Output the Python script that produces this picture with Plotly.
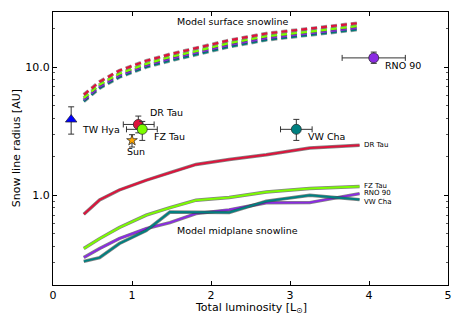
import math
import plotly.graph_objects as go

# ---- data ----
model_lum = [0.39, 0.59, 0.84, 1.18, 1.48, 1.81, 2.23, 2.70, 3.25, 3.88]

mid_dr_tau = [0.71, 0.92, 1.10, 1.31, 1.50, 1.74, 1.90, 2.07, 2.34, 2.46]
mid_fz_tau = [0.384, 0.459, 0.56, 0.70, 0.80, 0.915, 0.96, 1.06, 1.13, 1.17]
mid_rno_90 = [0.327, 0.384, 0.46, 0.55, 0.612, 0.72, 0.77, 0.875, 0.877, 1.03]
mid_vw_cha = [0.305, 0.326, 0.42, 0.53, 0.74, 0.733, 0.733, 0.90, 1.00, 0.925]

surf_dr_tau = [6.1, 7.7, 9.4, 11.2, 12.6, 14.0, 16.2, 18.3, 19.9, 22.1]
surf_fz_tau = [5.75, 7.3, 8.9, 10.6, 12.0, 13.3, 15.4, 17.4, 18.9, 21.0]
surf_rno_90 = [5.55, 7.05, 8.6, 10.3, 11.6, 12.9, 14.9, 16.8, 18.3, 20.3]
surf_vw_cha = [5.4, 6.85, 8.35, 10.0, 11.2, 12.5, 14.4, 16.3, 17.7, 19.7]

series_names = ["DR Tau", "FZ Tau", "RNO 90", "VW Cha"]
series_colors = ["#DC143C", "#7CFC00", "#8A2BE2", "#008080"]

# observed objects
obj_names = ["TW Hya", "DR Tau", "FZ Tau", "Sun", "VW Cha", "RNO 90"]
obj_lum = [0.23, 1.08, 1.13, 1.00, 3.08, 4.06]
obj_lum_lo = [0.0, 0.19, 0.20, 0.0, 0.20, 0.40]
obj_lum_hi = [0.0, 0.20, 0.19, 0.0, 0.20, 0.40]
obj_r = [3.9, 3.57, 3.27, 2.68, 3.27, 11.8]
obj_r_lo = [0.9, 0.5, 0.59, 0.30, 0.59, 1.1]
obj_r_hi = [1.0, 0.58, 0.5, 0.29, 0.64, 1.3]
obj_colors = ["#0000FF", "#DC143C", "#7CFC00", "#FFA500", "#008080", "#8A2BE2"]
obj_symbols = ["triangle-up", "circle", "circle", "star", "circle", "circle"]
obj_sizes = [10, 10, 10, 8, 10, 10]

fig = go.Figure()

outline = "#333333"

# surface snowlines (dashed) - outline underneath, then colour
surf = [surf_dr_tau, surf_fz_tau, surf_rno_90, surf_vw_cha]
for idx in [3, 2, 1, 0]:
    fig.add_trace(go.Scatter(x=model_lum, y=surf[idx], mode="lines",
                             line=dict(color=outline, width=3.6, dash="6px,4px"),
                             opacity=0.45, showlegend=False, hoverinfo="skip"))
    fig.add_trace(go.Scatter(x=model_lum, y=surf[idx], mode="lines",
                             line=dict(color=series_colors[idx], width=2.2, dash="6px,4px"),
                             showlegend=False))

# midplane snowlines (solid)
mid = [mid_dr_tau, mid_fz_tau, mid_rno_90, mid_vw_cha]
for idx in [0, 1, 2, 3]:
    fig.add_trace(go.Scatter(x=model_lum, y=mid[idx], mode="lines",
                             line=dict(color=outline, width=3.4),
                             opacity=0.6, showlegend=False, hoverinfo="skip"))
    fig.add_trace(go.Scatter(x=model_lum, y=mid[idx], mode="lines",
                             line=dict(color=series_colors[idx], width=2.0),
                             showlegend=False))

# observed points
for i in range(len(obj_names)):
    ex = dict(type="data", symmetric=False, array=[obj_lum_hi[i]],
              arrayminus=[obj_lum_lo[i]], color="#333333", thickness=1, width=3,
              visible=obj_lum_hi[i] > 0)
    ey = dict(type="data", symmetric=False, array=[obj_r_hi[i]],
              arrayminus=[obj_r_lo[i]], color="#333333", thickness=1, width=3)
    fig.add_trace(go.Scatter(x=[obj_lum[i]], y=[obj_r[i]], mode="markers",
                             marker=dict(color=obj_colors[i], symbol=obj_symbols[i],
                                         size=obj_sizes[i],
                                         line=dict(color="#222222", width=0.7)),
                             error_x=ex, error_y=ey, showlegend=False,
                             name=obj_names[i]))

font_main = "DejaVu Sans"

ann = []
# object labels
obj_label_pos = {
    "TW Hya": (0.34, 3.27, "left"),
    "DR Tau": (1.20, 4.46, "left"),
    "FZ Tau": (1.25, 2.85, "left"),
    "Sun": (1.055, 2.21, "center"),
    "VW Cha": (3.20, 2.85, "left"),
    "RNO 90": (4.18, 10.3, "left"),
}
for name, (x, y, anc) in obj_label_pos.items():
    ann.append(dict(x=x, y=math.log10(y), xref="x", yref="y", text=name,
                    showarrow=False, xanchor=anc, yanchor="middle",
                    font=dict(family=font_main, size=9.5, color="black")))

# line-end labels
line_label_y = [2.48, 1.19, 1.04, 0.887]
for name, y in zip(series_names, line_label_y):
    ann.append(dict(x=3.905, y=math.log10(y), xref="x", yref="y", text=name,
                    showarrow=False, xanchor="left", yanchor="middle",
                    font=dict(family=font_main, size=7, color="black")))

ann.append(dict(x=2.28, y=math.log10(22.7), xref="x", yref="y",
                text="Model surface snowline", showarrow=False,
                font=dict(family=font_main, size=9.5, color="black")))
ann.append(dict(x=2.34, y=math.log10(0.527), xref="x", yref="y",
                text="Model midplane snowline", showarrow=False,
                font=dict(family=font_main, size=9.5, color="black")))

# axis titles placed explicitly
ann.append(dict(x=0.5, y=-0.085, xref="paper", yref="paper", xanchor="center",
                yanchor="middle", text="Total luminosity [L<sub>⊙</sub>]",
                showarrow=False, font=dict(family=font_main, size=11, color="black")))
ann.append(dict(x=-0.092, y=0.5, xref="paper", yref="paper", xanchor="center",
                yanchor="middle", text="Snow line radius [AU]", textangle=-90,
                showarrow=False, font=dict(family=font_main, size=11, color="black")))

minor_vals = [0.2, 0.3, 0.4, 0.5, 0.6, 0.7, 0.8, 0.9,
              2, 3, 4, 5, 6, 7, 8, 9, 20]

# page body has an 8px default margin; size the figure to compensate
fig.update_layout(
    width=455, height=323,
    margin=dict(l=45, r=15, t=4, b=46),
    paper_bgcolor="white", plot_bgcolor="white",
    annotations=ann,
    font=dict(family=font_main, size=11, color="black"),
    xaxis=dict(range=[0, 5], tickvals=[0, 1, 2, 3, 4, 5], ticks="inside",
               ticklen=4, tickwidth=1, tickcolor="black", mirror="ticks",
               showline=True, linecolor="black", linewidth=1.2, showgrid=False,
               zeroline=False, tickfont=dict(size=11), automargin=False),
    yaxis=dict(type="log", range=[-0.70, 1.43], tickvals=[1, 10],
               ticktext=["1.0", "10.0"], ticks="inside", ticklen=4,
               tickwidth=1, tickcolor="black", mirror="ticks",
               showline=True, linecolor="black", linewidth=1.2, showgrid=False,
               zeroline=False, tickfont=dict(size=11), automargin=False,
               minor=dict(tickmode="array", tickvals=minor_vals, ticks="inside",
                          ticklen=2, tickcolor="#555555", showgrid=False)),
)

fig.write_html("out.html")
